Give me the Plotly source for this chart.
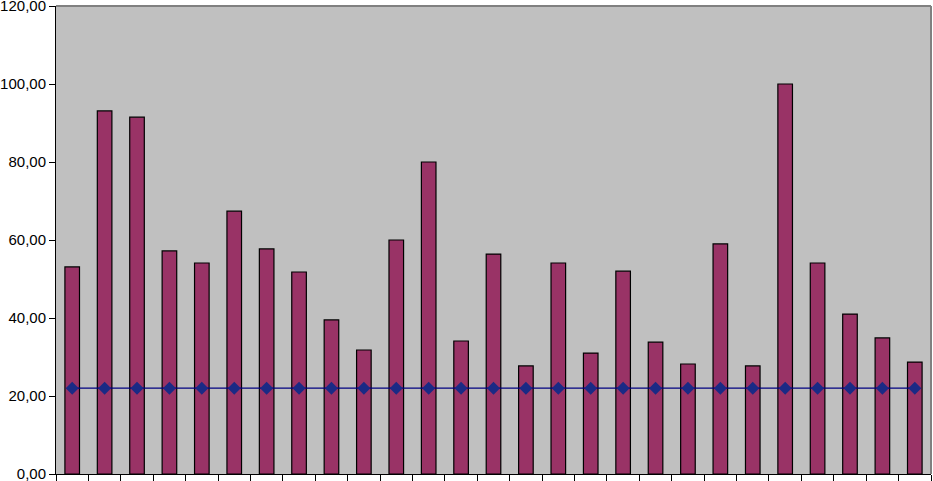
import plotly.graph_objects as go

categories = [str(i) for i in range(1, 28)]
bar_values = [53.1, 93.1, 91.5, 57.2, 54.1, 67.4, 57.7, 51.8, 39.5, 31.8, 60.0, 80.0,
              34.1, 56.4, 27.7, 54.1, 31.0, 52.0, 33.8, 28.2, 59.0, 27.7, 100.0, 54.1,
              41.0, 34.9, 28.7]
line_values = [22.0] * 27

fig = go.Figure()
fig.add_trace(go.Bar(x=categories, y=bar_values, marker=dict(color="#993366", line=dict(color="black", width=1.2))))
fig.add_trace(go.Scatter(x=categories, y=line_values, mode="lines+markers",
                         line=dict(color="#000080", width=1.3),
                         marker=dict(symbol="diamond", size=10, color="#1A2A85")))
fig.update_layout(
    width=933, height=481, showlegend=False,
    margin=dict(l=56, r=2, t=6, b=7, autoexpand=False),
    plot_bgcolor="#C0C0C0", paper_bgcolor="white",
    bargap=0.55, separators=",.",
    font=dict(family="Liberation Sans, Arial", size=15, color="black"),
    shapes=[
        dict(type="line", xref="paper", yref="paper", x0=0, x1=1, y0=1, y1=1,
             line=dict(color="#808080", width=2)),
        dict(type="line", xref="paper", yref="paper", x0=1, x1=1, y0=0, y1=1,
             line=dict(color="#808080", width=2)),
    ],
)
fig.update_xaxes(showticklabels=False, ticks="outside", ticklen=6, tickcolor="black",
                 tickson="boundaries", showline=True, linecolor="black", linewidth=1,
                 showgrid=False, range=[-0.5, 26.5], automargin=False)
fig.update_yaxes(range=[0, 120], dtick=20, tickformat=".2f", ticks="outside", ticklen=6,
                 tickcolor="black", showline=True, linecolor="black", linewidth=1,
                 showgrid=False, zeroline=False, automargin=False, ticklabeloverflow="allow")
fig.write_html("out.html", config={"displayModeBar": False},
               post_script="document.body.style.margin='0';document.body.style.overflow='hidden';")
